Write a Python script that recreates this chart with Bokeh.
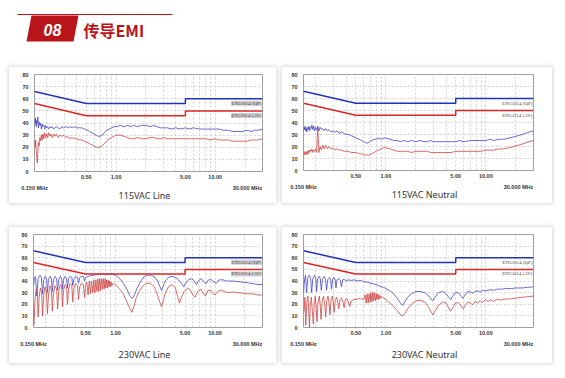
import math
from bokeh.plotting import figure
from bokeh.layouts import column, row
from bokeh.models import (Range1d, FixedTicker, PrintfTickFormatter, Label, Spacer, LogAxis)
from bokeh.embed import file_html
from bokeh.resources import INLINE
from bokeh.core.properties import value

# ---------------- data ----------------
limit_f = [0.15, 0.5, 5.0, 5.0, 30.0]
qp_limit = [66, 56, 56, 60, 60]
av_limit = [56, 46, 46, 50, 50]
x_ticks = [0.5, 1.0, 5.0, 10.0]
grid_f = [0.2, 0.3, 0.4, 0.5, 0.6, 0.7, 0.8, 0.9, 1, 2, 3, 4, 5, 6, 7, 8, 9, 10, 20]
y_ticks = [0, 10, 20, 30, 40, 50, 60, 70, 80]
y_grid = [10, 20, 30, 40, 50, 60, 70]
captions = ["115VAC Line", "115VAC Neutral", "230VAC Line", "230VAC Neutral"]
end_labels = ["0.150 MHz", "30.000 MHz"]
qp_text = "EN55014 (QP)"
av_text = "EN55014 (AV)"

f_top = [0.150, 0.152, 0.154, 0.156, 0.158, 0.160, 0.162, 0.164, 0.167, 0.170,
         0.173, 0.176, 0.179, 0.182, 0.186, 0.190, 0.194, 0.198, 0.203, 0.208,
         0.214, 0.220, 0.227, 0.234, 0.242, 0.250, 0.260, 0.270, 0.282, 0.295,
         0.310, 0.325, 0.340, 0.360, 0.380, 0.400, 0.425, 0.450, 0.480, 0.510,
         0.540, 0.570, 0.600, 0.630, 0.660, 0.690, 0.720, 0.760, 0.800, 0.850,
         0.900, 0.950, 1.00, 1.10, 1.20, 1.30, 1.40, 1.50, 1.65, 1.80,
         2.00, 2.20, 2.40, 2.60, 2.80, 3.00, 3.30, 3.60, 4.00, 4.50,
         5.00, 5.50, 6.00, 7.00, 8.00, 9.00, 10.0, 11.0, 12.0, 13.5,
         15.0, 17.0, 19.0, 21.0, 23.0, 25.0, 27.0, 30.0]

line115_pk = [43, 39, 44, 37, 42, 40, 45, 36, 41, 38,
              40, 35, 39, 37, 38, 35, 38, 36, 37, 35,
              37, 36, 37, 35, 36, 37, 36, 35, 37, 36,
              37, 36, 37, 36, 37, 36, 36, 36, 35, 34,
              33, 32, 31, 30, 29, 29, 30, 32, 34, 35,
              36, 37, 37, 38, 37, 38, 37, 38, 37, 38,
              38, 37, 38, 37, 36, 36, 36, 35, 36, 35,
              36, 35, 36, 35, 35, 35, 35, 35, 34, 34,
              33, 33, 33, 34, 33, 34, 34, 35]
line115_av = [25, 20, 26, 17, 12, 7, 15, 24, 21, 28,
              25, 30, 26, 31, 27, 32, 28, 31, 28, 32,
              29, 31, 28, 31, 29, 31, 28, 30, 29, 30,
              28, 29, 27, 28, 27, 27, 26, 26, 25, 24,
              23, 22, 21, 20, 20, 20, 21, 23, 25, 27,
              28, 29, 30, 30, 29, 28, 27, 27, 28, 27,
              27, 28, 28, 27, 27, 28, 27, 27, 27, 27,
              27, 27, 27, 27, 27, 26, 27, 26, 26, 26,
              25, 25, 25, 25, 26, 26, 26, 27]
neut115_pk = [33, 36, 34, 37, 33, 35, 32, 36, 34, 37,
              33, 36, 35, 38, 34, 37, 33, 36, 34, 37,
              33, 36, 34, 35, 33, 35, 33, 34, 32, 33,
              32, 33, 31, 32, 31, 30, 30, 29, 28, 27,
              26, 25, 24, 23, 23, 24, 25, 26, 26, 27,
              26, 27, 27, 26, 25, 25, 24, 25, 24, 25,
              24, 25, 24, 24, 25, 24, 24, 24, 24, 24,
              24, 25, 24, 25, 25, 25, 25, 26, 25, 26,
              26, 27, 28, 29, 30, 31, 32, 33]
neut115_av = [14, 15, 13, 16, 14, 15, 13, 16, 14, 17,
              15, 17, 16, 18, 15, 17, 16, 18, 15, 36,
              15, 20, 17, 21, 18, 21, 18, 20, 18, 19,
              17, 18, 17, 17, 16, 16, 16, 15, 15, 15,
              14, 14, 13, 13, 13, 13, 14, 15, 16, 17,
              18, 19, 19, 18, 17, 16, 16, 16, 16, 15,
              16, 16, 16, 16, 15, 15, 15, 15, 15, 15,
              16, 16, 16, 16, 16, 16, 17, 17, 17, 18,
              18, 19, 20, 21, 22, 23, 24, 25]

line230_pk = [(0.150, 36), (0.153, 42), (0.157, 44), (0.162, 27), (0.167, 42), (0.174, 45),
              (0.180, 43), (0.185, 29), (0.190, 41), (0.197, 44), (0.203, 42), (0.207, 30),
              (0.212, 41), (0.220, 44), (0.227, 42), (0.232, 31), (0.238, 41), (0.247, 44),
              (0.256, 42), (0.262, 32), (0.269, 41), (0.279, 44), (0.288, 42), (0.293, 33),
              (0.300, 41), (0.312, 44), (0.323, 42), (0.329, 34), (0.337, 42), (0.350, 44),
              (0.364, 43), (0.372, 36), (0.382, 42), (0.398, 44), (0.415, 43), (0.425, 38),
              (0.437, 43), (0.455, 44), (0.475, 44), (0.489, 40), (0.500, 43), (0.53, 44),
              (0.56, 44.5), (0.60, 45), (0.65, 45.5), (0.70, 46), (0.75, 46), (0.80, 45.5),
              (0.85, 46), (0.90, 46), (0.95, 45.5), (1.00, 45), (1.05, 44), (1.10, 42),
              (1.20, 38), (1.30, 33), (1.40, 27), (1.47, 25), (1.55, 28), (1.65, 34),
              (1.80, 40), (1.95, 44), (2.10, 45), (2.30, 45), (2.50, 43), (2.65, 40),
              (2.80, 35), (2.90, 32), (3.00, 35), (3.15, 40), (3.40, 43), (3.70, 44),
              (4.00, 43), (4.30, 41), (4.60, 38), (4.85, 35), (5.05, 38), (5.40, 41),
              (5.80, 42), (6.20, 40), (6.50, 37), (6.80, 40), (7.30, 42), (7.80, 39),
              (8.10, 37.5), (8.60, 41), (9.20, 41), (9.80, 39), (10.3, 38), (11.0, 41),
              (12.0, 41), (13.0, 40), (14.0, 40), (15.0, 40), (17.0, 39.5), (19.0, 39),
              (21.0, 38.5), (23.0, 38), (25.0, 37.5), (27.0, 37), (30.0, 37)]
line230_av = [(0.150, 20), (0.151, 2), (0.153, 10), (0.156, 26), (0.160, 33), (0.164, 28),
              (0.167, 9), (0.171, 26), (0.176, 34), (0.181, 30), (0.185, 10), (0.190, 28),
              (0.196, 35), (0.202, 31), (0.207, 12), (0.213, 29), (0.220, 36), (0.227, 32),
              (0.232, 14), (0.238, 30), (0.247, 36), (0.256, 33), (0.262, 16), (0.269, 31),
              (0.279, 37), (0.288, 34), (0.293, 18), (0.300, 32), (0.312, 37), (0.323, 35),
              (0.329, 20), (0.337, 33), (0.350, 38), (0.364, 36), (0.372, 22), (0.382, 34),
              (0.398, 38), (0.415, 36), (0.425, 24), (0.437, 35), (0.455, 38), (0.475, 37),
              (0.489, 26), (0.500, 36), (0.515, 39), (0.530, 28), (0.545, 40), (0.560, 29),
              (0.575, 40), (0.590, 30), (0.605, 41), (0.620, 30), (0.635, 41), (0.650, 31),
              (0.665, 42), (0.680, 31), (0.695, 42), (0.710, 32), (0.725, 42), (0.740, 33),
              (0.755, 42), (0.770, 33), (0.785, 42), (0.800, 34), (0.815, 41), (0.830, 34),
              (0.845, 41), (0.860, 35), (0.875, 40), (0.890, 35), (0.905, 39), (0.920, 36),
              (0.940, 38), (0.960, 37.5), (1.00, 37), (1.05, 35), (1.10, 33), (1.20, 29),
              (1.30, 22), (1.40, 16), (1.46, 13), (1.53, 18), (1.62, 26), (1.75, 32),
              (1.90, 36), (2.05, 38), (2.25, 38), (2.45, 35), (2.62, 29), (2.78, 22),
              (2.90, 18), (3.00, 22), (3.15, 29), (3.40, 35), (3.70, 37), (4.00, 34),
              (4.20, 27), (4.40, 21), (4.60, 26), (4.90, 31), (5.30, 34), (5.70, 32),
              (6.00, 28), (6.30, 26), (6.70, 31), (7.20, 33), (7.70, 29), (8.00, 27),
              (8.50, 32), (9.10, 32), (9.60, 29), (10.0, 28), (10.6, 31), (11.5, 32),
              (12.5, 31), (13.5, 30), (15.0, 30.5), (17.0, 30), (19.0, 29.5), (21.0, 29),
              (23.0, 29), (25.0, 28.5), (27.0, 28), (30.0, 28)]
neut230_pk = [(0.150, 30), (0.153, 40), (0.157, 45), (0.161, 30), (0.166, 43), (0.172, 45),
              (0.177, 42), (0.181, 30), (0.186, 42), (0.193, 45), (0.199, 42), (0.203, 31),
              (0.208, 42), (0.215, 44), (0.221, 42), (0.226, 32), (0.232, 41), (0.241, 44),
              (0.249, 42), (0.255, 32), (0.262, 41), (0.272, 43), (0.280, 42), (0.286, 33),
              (0.293, 41), (0.303, 43), (0.311, 41), (0.317, 34), (0.325, 41), (0.338, 42),
              (0.350, 41), (0.360, 35), (0.370, 41), (0.385, 41.5), (0.400, 40), (0.42, 41),
              (0.45, 40.5), (0.48, 41), (0.52, 40), (0.56, 40.5), (0.60, 39.5), (0.65, 39),
              (0.70, 38), (0.75, 37.5), (0.80, 37), (0.85, 36), (0.90, 35), (0.95, 34.5),
              (1.00, 33.5), (1.10, 31.5), (1.20, 29), (1.30, 25), (1.40, 21), (1.47, 19),
              (1.55, 22), (1.65, 26), (1.80, 29), (2.00, 31), (2.20, 31), (2.45, 30),
              (2.70, 27), (2.85, 24), (2.95, 23), (3.10, 26), (3.35, 30), (3.70, 31),
              (4.00, 29), (4.25, 26), (4.45, 24), (4.65, 27), (4.95, 30), (5.30, 30),
              (5.65, 27), (5.90, 25), (6.20, 28), (6.60, 31), (7.00, 30.5), (7.40, 29.5),
              (7.80, 31), (8.30, 31.5), (8.80, 30.5), (9.30, 32), (10.0, 31.5), (11.0, 32.5),
              (12.0, 32), (13.0, 33), (14.5, 33), (16.0, 33.5), (18.0, 33.5), (20.0, 34),
              (23.0, 34), (26.0, 34.5), (30.0, 35)]
neut230_av = [(0.150, 13), (0.152, 14), (0.155, 26), (0.158, 2), (0.162, 22), (0.166, 27),
              (0.170, 12), (0.172, 0), (0.175, 18), (0.180, 26), (0.184, 14), (0.188, 3),
              (0.192, 20), (0.197, 27), (0.201, 16), (0.205, 5), (0.209, 21), (0.216, 27),
              (0.221, 18), (0.225, 7), (0.230, 22), (0.238, 27), (0.245, 19), (0.250, 9),
              (0.256, 23), (0.264, 27), (0.271, 20), (0.276, 11), (0.283, 24), (0.292, 27),
              (0.299, 21), (0.304, 13), (0.312, 24), (0.322, 26), (0.330, 22), (0.338, 16),
              (0.348, 24), (0.360, 25.5), (0.372, 22), (0.382, 17), (0.394, 24), (0.408, 25),
              (0.422, 22), (0.435, 18), (0.450, 23), (0.48, 24), (0.52, 24.5), (0.56, 25),
              (0.60, 24), (0.62, 28), (0.635, 21), (0.65, 29), (0.665, 21), (0.68, 29),
              (0.695, 22), (0.71, 30), (0.725, 22), (0.74, 30), (0.755, 23), (0.77, 30),
              (0.785, 23), (0.80, 29), (0.815, 24), (0.83, 29), (0.845, 24), (0.86, 28),
              (0.875, 25), (0.89, 27), (0.91, 26), (0.95, 25.5), (1.00, 24), (1.10, 21),
              (1.20, 18), (1.30, 14.5), (1.40, 11), (1.47, 10), (1.55, 12), (1.65, 16),
              (1.80, 20), (2.00, 23), (2.20, 23.5), (2.45, 22), (2.70, 17), (2.85, 13),
              (2.95, 11), (3.10, 14), (3.35, 19), (3.70, 22), (4.00, 21), (4.25, 17),
              (4.45, 14), (4.65, 17), (4.95, 21), (5.30, 21.5), (5.65, 18.5), (5.95, 16),
              (6.25, 19), (6.60, 22), (7.00, 21), (7.40, 19.5), (7.80, 22.5), (8.30, 21),
              (8.80, 23), (9.30, 21.5), (9.90, 24), (10.5, 22.5), (11.2, 24), (12.0, 22.5),
              (13.0, 24.5), (14.0, 23.5), (15.5, 24.5), (17.0, 24.5), (19.0, 25), (21.0, 25.5),
              (23.0, 26), (26.0, 26.5), (30.0, 27)]

# ---------------- styling ----------------
RED = "#b8151b"
QP_COL = "#2233b8"
AV_COL = "#dd2424"
PK_COL = "#4646c4"
AVT_COL = "#cf4444"
TICK_FONT = "Liberation Sans"
CARD = {"box-shadow": "0 0 4px 1px rgba(0,0,0,0.16)"}
F0, F1 = 0.15, 30.0


def f_at(px, fw):
    """frequency located px pixels right of the frame's left edge"""
    return F0 * 10 ** (px / fw * math.log10(F1 / F0))


def bare(ax, size, font, style, standoff):
    ax.axis_line_color = None
    ax.major_tick_line_color = None
    ax.minor_tick_line_color = None
    ax.major_tick_out = 0
    ax.major_tick_in = 0
    ax.major_label_text_font = font
    ax.major_label_text_font_size = size
    ax.major_label_text_font_style = style
    ax.major_label_text_color = "#333333"
    ax.major_label_standoff = standoff


def make_panel(caption, f_pk, v_pk, f_av, v_av, border, frame, cap_dx, cap_gap, lab_bg):
    left, right, top, bottom = border
    fw, fh = frame
    p = figure(x_axis_type="log", x_range=Range1d(F0, F1), y_range=Range1d(0, 80),
               frame_width=fw, frame_height=fh,
               min_border_left=left, min_border_right=right,
               min_border_top=top, min_border_bottom=bottom,
               output_backend="svg", toolbar_location=None,
               background_fill_color="white", border_fill_color="white",
               outline_line_color="#a0a0a0", outline_line_width=1,
               styles=CARD)
    p.xaxis.ticker = FixedTicker(ticks=x_ticks)
    p.xaxis.formatter = PrintfTickFormatter(format="%.2f")
    p.yaxis.ticker = FixedTicker(ticks=y_ticks)
    bare(p.xaxis[0], "5.5px", TICK_FONT, "bold", 3)
    bare(p.yaxis[0], "5.5px", TICK_FONT, "bold", 6)
    p.xgrid.ticker = FixedTicker(ticks=grid_f)
    p.ygrid.ticker = FixedTicker(ticks=y_grid)
    p.grid.grid_line_color = "#c6c6c6"
    p.grid.grid_line_dash = "2 2"
    p.grid.grid_line_width = 0.8

    # second row of x labels: band ends
    f_right = f_at(fw - 15, fw)
    ax2 = LogAxis(ticker=FixedTicker(ticks=[F0, f_right]),
                  major_label_overrides={F0: end_labels[0], f_right: end_labels[1]})
    bare(ax2, "5.5px", TICK_FONT, "bold", 3)
    p.add_layout(ax2, "below")

    # caption
    f_cap = f_at(cap_dx, fw)
    ax3 = LogAxis(ticker=FixedTicker(ticks=[f_cap]),
                  major_label_overrides={f_cap: caption})
    bare(ax3, "9px", "Noto Sans", "normal", cap_gap)
    p.add_layout(ax3, "below")

    p.line(f_pk, v_pk, line_color=PK_COL, line_width=0.8)
    p.line(f_av, v_av, line_color=AVT_COL, line_width=0.8)
    p.line(limit_f, qp_limit, line_color=QP_COL, line_width=1.5)
    p.line(limit_f, av_limit, line_color=AV_COL, line_width=1.5)

    for txt, yv in ((qp_text, qp_limit[-1]), (av_text, av_limit[-1])):
        lab = Label(x=F1, y=yv, x_offset=-1, y_offset=-4.5, text=txt,
                    text_align="right", text_baseline="middle",
                    text_font="Liberation Serif", text_font_size="5px",
                    text_color="#444444")
        if lab_bg:
            lab.background_fill_color = "#cfcfcf"
        p.add_layout(lab)
    return p


def unzip(pairs):
    return [a for a, _ in pairs], [b for _, b in pairs]


f1, v1 = unzip(line230_pk)
f2, v2 = unzip(line230_av)
f3, v3 = unzip(neut230_pk)
f4, v4 = unzip(neut230_av)

tl = make_panel(captions[0], f_top, line115_pk, f_top, line115_av,
                (25, 14, 6, 32), (228, 97), 110, -5, True)
tr = make_panel(captions[1], f_top, neut115_pk, f_top, neut115_av,
                (21, 19, 7, 32), (230, 96), 121, -5, False)
bl = make_panel(captions[2], f1, v1, f2, v2,
                (24, 14, 7, 36), (229, 93), 111, -2, True)
br = make_panel(captions[3], f3, v3, f4, v4,
                (21, 19, 7, 36), (230, 93), 121, -2, False)

# ---------------- header ----------------
h = figure(frame_width=557, frame_height=67, min_border=0,
           x_range=Range1d(0, 557), y_range=Range1d(67, 0),
           x_axis_location=None, y_axis_location=None,
           output_backend="svg", toolbar_location=None,
           outline_line_color=None, background_fill_color="white",
           border_fill_color="white")
h.grid.visible = False
h.line([17, 172], [14, 14], line_color=RED, line_width=1)
h.patch([31, 78, 73, 26], [15, 15, 41, 41], fill_color=RED, line_color=None)
h.text([52], [29], text=["08"], text_color="white", text_font=value("Liberation Sans"),
       text_font_size="16px", text_font_style="bold italic",
       text_align="center", text_baseline="middle")
h.text([83], [29], text=["传导EMI"], text_color=RED, text_font=value("Noto Sans CJK SC"),
       text_font_size="16px", text_font_style="bold",
       text_align="left", text_baseline="middle")

layout = column(h,
                row(Spacer(width=9), tl, Spacer(width=6), tr, spacing=0),
                Spacer(height=24),
                row(Spacer(width=9), bl, Spacer(width=6), br, spacing=0),
                spacing=0)

open("out.html", "w").write(file_html(layout, INLINE))
